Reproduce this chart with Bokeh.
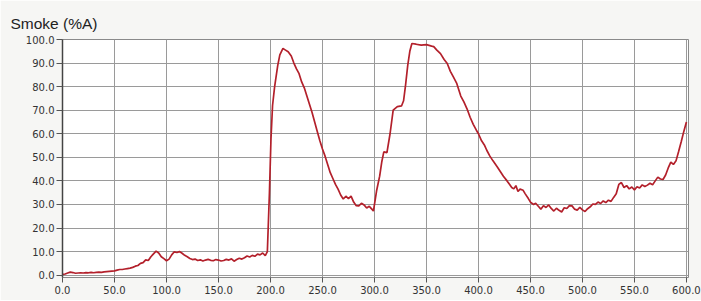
from bokeh.plotting import figure
from bokeh.models import Range1d, FixedTicker, NumeralTickFormatter
from bokeh.embed import file_html
from bokeh.resources import INLINE

title_text = "Smoke (%A)"

time_s = [0, 2.5, 5, 7.5, 10, 12.5, 15, 17.5, 20, 22.5, 25, 27.5, 30, 32.5, 35, 37.5,
          40, 42.5, 45, 47.5, 50, 52.5, 55, 57.5, 60, 62.5, 65, 67.5, 70, 72.5, 75, 77.5,
          80, 82.5, 85, 87.5, 90, 92.5, 95, 97.5, 100, 102.5, 105, 107.5, 110, 112.5, 115, 117.5,
          120, 122.5, 125, 127.5, 130, 132.5, 135, 137.5, 140, 142.5, 145, 147.5, 150, 152.5, 155, 157.5,
          160, 162.5, 165, 167.5, 170, 172.5, 175, 177.5, 180, 182.5, 185, 187.5, 190, 192.5, 195,
          197, 199, 200.5, 202, 204, 207, 209, 212, 214.5, 217, 220, 222.5, 225, 227.5, 230, 232.5,
          235, 237.5, 240, 242.5, 245, 247.5, 250, 252.5, 255, 257.5, 260, 262.5, 265, 267.5,
          270, 272.5, 275, 277.5, 280, 282.5, 285, 287.5, 290, 292.5, 295, 297.5, 299,
          302, 305, 307, 309, 312, 315, 318, 322, 326, 328, 330, 332, 334, 336, 340, 345, 350, 355, 357,
          360, 363.5, 367, 370, 373, 376, 379, 383, 386, 389, 392, 395, 398, 400, 403, 406, 408, 411,
          414, 418, 421, 424, 427.5, 430, 432, 434, 436, 438, 440, 443, 445, 448, 450, 453, 455, 458,
          460, 462.5, 465, 467.5, 470, 472.5, 475, 477.5, 480, 482.5, 485, 487.5, 490, 492.5, 495, 497.5,
          500, 502.5, 505, 507.5, 510, 512.5, 515, 517.5, 520, 522.5, 525, 527.5, 530, 532.5, 535, 537.5,
          540, 542.5, 545, 547.5, 550, 552.5, 555, 557.5, 560, 562.5, 565, 567.5, 570, 572.5, 575, 577.5,
          580, 582.5, 585, 587.5, 590, 592.5, 595, 597.5, 600]

smoke = [0.3, 0.5, 0.9, 1.3, 1.1, 0.8, 0.9, 1.0, 0.9, 1.1, 1.0, 1.2, 1.0, 1.2, 1.3, 1.2,
         1.4, 1.5, 1.6, 1.7, 1.8, 2.1, 2.4, 2.4, 2.6, 2.8, 3.0, 3.3, 3.8, 4.1, 5.0, 5.3,
         6.5, 6.2, 7.8, 9.0, 10.2, 9.4, 7.8, 7.0, 6.1, 6.8, 8.6, 9.9, 9.6, 10.0, 9.3, 8.4,
         7.8, 7.1, 6.6, 6.8, 6.2, 6.5, 6.0, 6.4, 6.7, 6.3, 6.1, 6.6, 6.4, 6.0, 6.2, 6.7,
         6.4, 6.9, 5.9, 6.6, 7.2, 6.8, 7.4, 8.1, 7.7, 8.4, 8.0, 8.9, 8.6, 9.4, 8.3,
         10.0, 35.0, 58.0, 72.0, 80.0, 89.0, 93.5, 96.2, 95.5, 94.8, 93.0, 90.0, 87.5, 85.5, 82.0, 79.5,
         76.0, 72.5, 69.0, 65.0, 61.0, 57.0, 53.5, 50.5, 47.0, 43.5, 41.0, 38.5, 36.5, 34.0,
         32.3, 33.5, 32.5, 33.5, 31.0, 29.5, 29.4, 30.5, 29.8, 28.5, 29.2, 28.0, 27.2,
         35.7, 42.0, 48.0, 52.3, 52.0, 60.0, 70.0, 71.5, 71.8, 74.0, 81.0, 89.0, 95.0, 98.3, 98.0, 97.6, 97.8, 97.2, 97.0,
         95.5, 94.0, 91.5, 89.8, 86.5, 84.0, 81.5, 76.0, 73.5, 70.6, 67.0, 64.0, 61.5, 60.0, 57.0, 55.0, 53.0, 50.5,
         48.5, 46.0, 44.0, 42.0, 40.0, 38.5, 37.2, 36.6, 38.0, 35.5, 36.5, 36.0, 34.5, 32.5, 31.0, 30.0, 30.5, 29.0,
         28.0, 29.5, 28.7, 29.8, 28.3, 27.2, 28.4, 27.5, 26.8, 28.6, 28.3, 29.5, 29.4, 28.0, 27.6, 28.8,
         27.7, 27.0, 28.2, 29.0, 30.2, 30.0, 31.0, 30.4, 31.5, 30.8, 31.8, 31.3, 33.0, 34.5, 38.5, 39.3,
         37.2, 38.0, 36.6, 37.4, 36.2, 37.5, 37.0, 38.3, 37.6, 38.2, 39.0, 38.4, 40.0, 41.6, 40.8, 40.6,
         42.5, 45.5, 48.0, 47.0, 48.5, 52.5, 56.6, 61.0, 65.0]

x_ticks = [0, 50, 100, 150, 200, 250, 300, 350, 400, 450, 500, 550, 600]
y_ticks = [0, 10, 20, 30, 40, 50, 60, 70, 80, 90, 100]

p = figure(width=701, height=300, output_backend="svg", toolbar_location=None,
           x_range=Range1d(0, 602), y_range=Range1d(-1, 100),
           min_border_left=62, min_border_right=13, min_border_top=39, min_border_bottom=23)
p.frame_width = 626
p.frame_height = 238

p.background_fill_color = "white"
p.border_fill_color = "#f6f6f4"
p.outline_line_color = "#8a8a8a"
p.outline_line_width = 1

p.title.text = title_text
p.title.text_font = "Liberation Sans"
p.title.text_font_size = "15.5px"
p.title.text_font_style = "normal"
p.title.text_color = "#222222"
p.title.align = "left"
p.title.offset = -52
p.title.standoff = 15

p.line(time_s, smoke, line_color="#b3202b", line_width=1.7)

p.xaxis.ticker = FixedTicker(ticks=x_ticks)
p.yaxis.ticker = FixedTicker(ticks=y_ticks)
p.xaxis.formatter = NumeralTickFormatter(format="0.0")
p.yaxis.formatter = NumeralTickFormatter(format="0.0")

for ax in (p.xaxis[0], p.yaxis[0]):
    ax.major_label_text_font = "DejaVu Sans"
    ax.major_label_text_font_size = "10px"
    ax.major_label_text_color = "#333333"
    ax.minor_tick_line_color = None
    ax.major_tick_line_color = "#555555"
    ax.major_tick_in = 0

p.yaxis.axis_line_color = "#444444"
p.yaxis.axis_line_width = 1.5
p.yaxis.major_tick_out = 6
p.yaxis.major_label_standoff = 2
p.xaxis.axis_line_color = None
p.xaxis.major_tick_out = 5
p.xaxis.major_label_standoff = 3

p.xgrid.grid_line_color = "#9a9a9a"
p.ygrid.grid_line_color = "#9a9a9a"
p.xgrid.grid_line_width = 1
p.ygrid.grid_line_width = 1

open("out.html", "w").write(file_html(p, INLINE))
